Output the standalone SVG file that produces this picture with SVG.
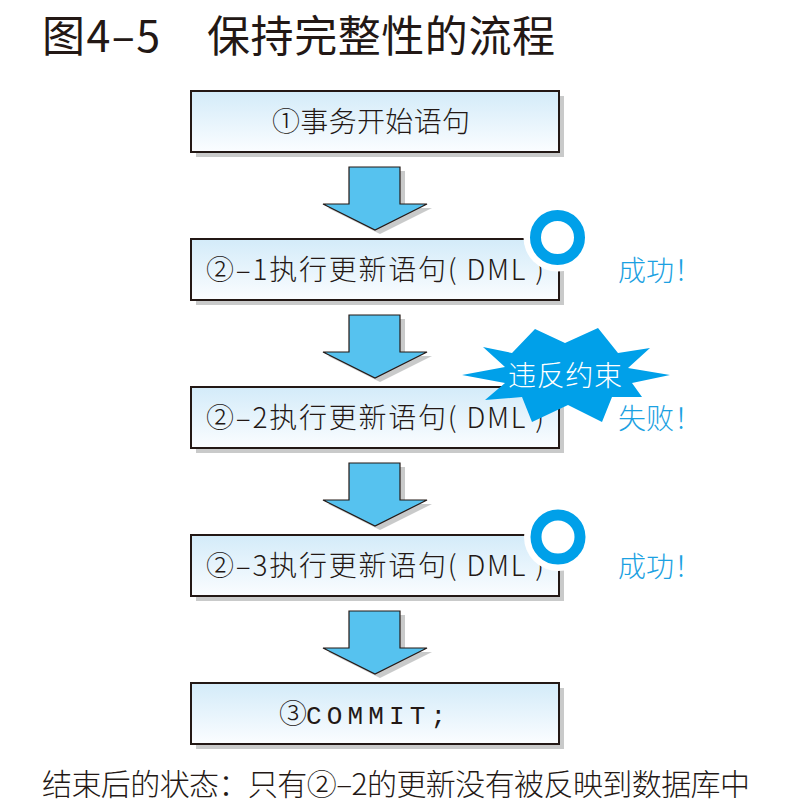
<svg xmlns="http://www.w3.org/2000/svg" xmlns:xlink="http://www.w3.org/1999/xlink" width="796" height="811" viewBox="0 0 796 811">
<defs>
<linearGradient id="boxGrad" x1="0" y1="0" x2="0" y2="1">
<stop offset="0" stop-color="#d3ebf9"/>
<stop offset="1" stop-color="#fbfdff"/>
</linearGradient>
<g id="arrow">
<polygon points="354,171 405,171 405,208 432,208 380,234 328,208 354,208" fill="#c9caca"/>
<polygon points="349,167 400,167 400,204 427,204 375,230 323,204 349,204" fill="#56c2ef" stroke="#231815" stroke-width="1.2" stroke-linejoin="miter"/>
</g>
<g id="ok">
<circle cx="0" cy="0" r="34" fill="#ffffff"/>
<circle cx="0" cy="0" r="22" fill="#ffffff" stroke="#00a0e9" stroke-width="11"/>
</g>
</defs>
<style>
.shadow{fill:#c9caca}
.box{fill:url(#boxGrad);stroke:#231815;stroke-width:2}
.t{font-family:"Noto Sans CJK SC","Noto Sans",sans-serif;font-size:28px;font-weight:300;fill:#231815}
.mono{font-family:"Liberation Mono","DejaVu Sans Mono",monospace;font-size:26px;fill:#231815}
.blue{font-family:"Noto Sans CJK SC","Noto Sans",sans-serif;font-size:28px;font-weight:300;fill:#1ba1e2}
.title{font-family:"Noto Sans CJK SC","Noto Sans",sans-serif;font-size:43px;font-weight:400;fill:#231815}
.note{font-family:"Noto Sans CJK SC","Noto Sans",sans-serif;font-size:30px;font-weight:300;fill:#231815}
.white{font-family:"Noto Sans CJK SC","Noto Sans",sans-serif;font-size:28px;font-weight:300;fill:#ffffff}
</style>
<rect x="0" y="0" width="796" height="811" fill="#ffffff"/>

<g id="title">
<text class="title" x="42" y="52" textLength="118" lengthAdjust="spacing">图4–5</text>
<text class="title" x="207" y="52" textLength="348" lengthAdjust="spacing">保持完整性的流程</text>
</g>

<g id="connectors">
<use xlink:href="#arrow" href="#arrow"/>
<use xlink:href="#arrow" href="#arrow" y="148"/>
<use xlink:href="#arrow" href="#arrow" y="296"/>
<use xlink:href="#arrow" href="#arrow" y="444"/>
</g>

<g id="node1">
<rect class="shadow" x="196" y="96" width="368" height="61"/>
<rect class="box" x="191" y="91" width="368" height="61"/>
<text class="t" x="272" y="132" textLength="198" lengthAdjust="spacing">①事务开始语句</text>
</g>

<g id="node2">
<rect class="shadow" x="196" y="244" width="368" height="61"/>
<rect class="box" x="191" y="239" width="368" height="61"/>
<text class="t" x="206" y="280" textLength="338" lengthAdjust="spacing">②–1执行更新语句( DML )</text>
</g>

<g id="node3">
<rect class="shadow" x="196" y="392" width="368" height="61"/>
<rect class="box" x="191" y="387" width="368" height="61"/>
<text class="t" x="206" y="428" textLength="338" lengthAdjust="spacing">②–2执行更新语句( DML )</text>
</g>

<g id="node4">
<rect class="shadow" x="196" y="540" width="368" height="61"/>
<rect class="box" x="191" y="535" width="368" height="61"/>
<text class="t" x="206" y="576" textLength="338" lengthAdjust="spacing">②–3执行更新语句( DML )</text>
</g>

<g id="node5">
<rect class="shadow" x="196" y="688" width="368" height="61"/>
<rect class="box" x="191" y="683" width="368" height="61"/>
<text class="t" x="279" y="724">③</text>
<text class="mono" x="306" y="724" textLength="140" lengthAdjust="spacing">COMMIT;</text>
</g>

<g id="result1">
<use xlink:href="#ok" href="#ok" x="557.5" y="237.5"/>
<text class="blue" x="618" y="281">成功！</text>
</g>

<g id="result2">
<polygon fill="#00a0e9" points="462,375 505,367 483,347 512,353 535,329 565,343 598,328 618,353 650,348 628,368 670,375 632,383 642,397 612,397 602,422 568,405 532,422 522,397 485,400 505,383"/>
<text class="white" x="508" y="386" textLength="114" lengthAdjust="spacing">违反约束</text>
<text class="blue" x="618" y="429">失败！</text>
</g>

<g id="result3">
<use xlink:href="#ok" href="#ok" x="558" y="537"/>
<text class="blue" x="618" y="577">成功！</text>
</g>

<g id="note">
<text class="note" x="42" y="795" textLength="708" lengthAdjust="spacing">结束后的状态：只有②–2的更新没有被反映到数据库中</text>
</g>
</svg>
